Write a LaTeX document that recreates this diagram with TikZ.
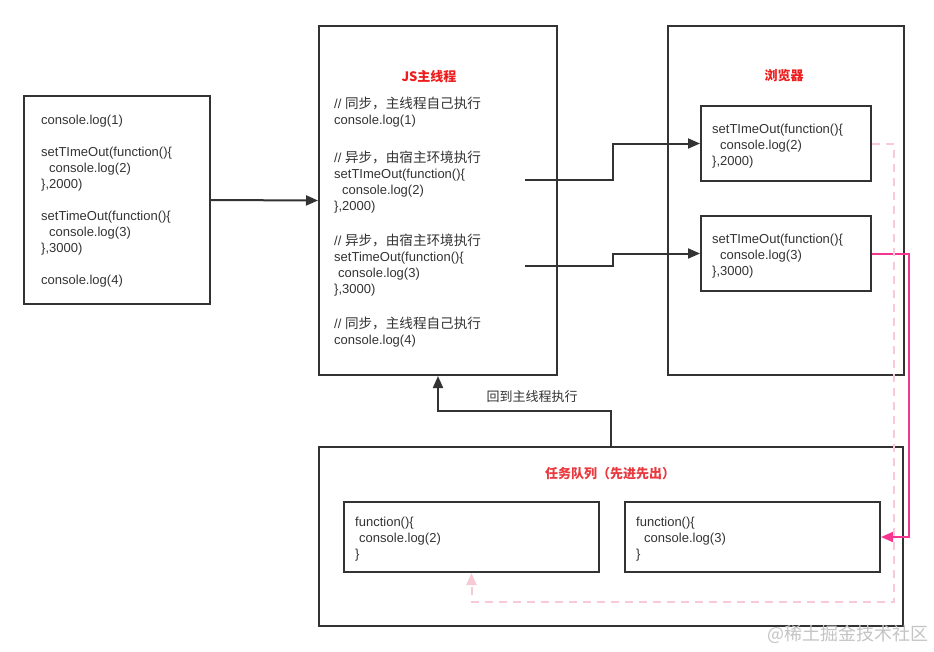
\documentclass[tikz,border=0pt]{standalone}
\usepackage{fontspec}
\setmainfont{Liberation Sans}
\newfontfamily\cjk{Noto Sans CJK SC}
\usetikzlibrary{arrows.meta}
\definecolor{linec}{HTML}{333333}
\definecolor{textc}{HTML}{333333}
\definecolor{titlered}{HTML}{EE1C1C}
\definecolor{queuered}{HTML}{E83A3F}
\definecolor{pinkc}{HTML}{F5358F}
\definecolor{lightpink}{HTML}{F8CAD6}
\definecolor{markc}{HTML}{C4C4C4}
\newcommand\zh[1]{{\cjk\fontsize{13.6}{16}\selectfont #1}}
\tikzset{
  box/.style={draw=linec, line width=2pt, fill=white, inner sep=0pt},
  code/.style={font=\fontsize{13}{16}\selectfont, text=textc, align=left, anchor=base west, inner sep=0pt},
  title/.style={font=\fontsize{13}{16}\selectfont\cjk\bfseries, inner sep=0pt},
  arr/.style={draw=linec, line width=2pt, -{Triangle[length=12pt,width=10pt]}},
  pinkarr/.style={draw=pinkc, line width=2pt, -{Triangle[length=12pt,width=10pt]}},
  dasharr/.style={draw=lightpink, line width=2pt, dash pattern=on 8pt off 6pt, -{Triangle[length=12pt,width=10pt]}},
}
\begin{document}
\begin{tikzpicture}[x=1pt,y=-1pt]
\useasboundingbox (0,0) rectangle (934,651);
\fill[white] (0,0) rectangle (934,651);

% boxes
\node[box, minimum width=186pt, minimum height=208pt] (src) at (117,200) {};
\node[box, minimum width=238pt, minimum height=349pt] (js) at (438,200.5) {};
\node[box, minimum width=236pt, minimum height=349pt] (br) at (786,200.5) {};
\node[box, minimum width=170pt, minimum height=75pt] (b1) at (786,143.5) {};
\node[box, minimum width=170pt, minimum height=75pt] (b2) at (786,253.5) {};
\node[box, minimum width=584pt, minimum height=179pt] (q) at (611,536.5) {};
\node[box, minimum width=255pt, minimum height=70pt] (qa) at (471.5,537) {};
\node[box, minimum width=255pt, minimum height=70pt] (qb) at (752.5,537) {};

% titles
\node[title, text=titlered] (tjs) at (429,76.5) {JS主线程};
\node[title, text=titlered] (tbr) at (784,76) {浏览器};
\node[title, text=queuered] (tq) at (610,474) {任务队列（先进先出）};

% source code (anchored at the baseline of the last line)
\node[code] (srccode) at (41,284.5) {console.log(1)\\[16pt]
setTImeOut(function()\{\\
\hspace*{8pt}console.log(2)\\
\},2000)\\[16pt]
setTimeOut(function()\{\\
\hspace*{8pt}console.log(3)\\
\},3000)\\[16pt]
console.log(4)};

% main thread code
\node[code] (jscode) at (334,344.5) {// \zh{同步，主线程自己执行}\\
console.log(1)\\[22pt]
// \zh{异步，由宿主环境执行}\\
setTImeOut(function()\{\\
\hspace*{8pt}console.log(2)\\
\},2000)\\[19pt]
// \zh{异步，由宿主环境执行}\\
setTimeOut(function()\{\\
\hspace*{4pt}console.log(3)\\
\},3000)\\[19pt]
// \zh{同步，主线程自己执行}\\
console.log(4)};

% browser code
\node[code] (b1code) at (712,165.5) {setTImeOut(function()\{\\
\hspace*{8pt}console.log(2)\\
\},2000)};
\node[code] (b2code) at (712,275.5) {setTImeOut(function()\{\\
\hspace*{8pt}console.log(3)\\
\},3000)};

% queue code
\node[code] (qacode) at (355,558.5) {function()\{\\
\hspace*{4pt}console.log(2)\\
\}};
\node[code] (qbcode) at (636,558.5) {function()\{\\
\hspace*{8pt}console.log(3)\\
\}};

% connectors
\draw[arr] (src.east) -- (js.west);
\coordinate (s1) at (525,180);
\coordinate (s2) at (525,266);
\draw[arr] (s1) -- (613,180) |- (b1.west);
\draw[arr] (s2) -- (613,266) |- (b2.west);
\draw[arr] (q.north) -- (611,411) -| (js.south);
\node[font=\fontsize{13}{16}\selectfont\cjk, text=textc, inner sep=0pt] (back) at (532,397) {回到主线程执行};
\draw[pinkarr] (b2.east) -- (909,253.5) |- (qb.east);
\draw[dasharr] (b1.east) -- (894,143.5) -- (894,602) -| (qa.south);

% watermark
\node[font=\fontsize{18}{20}\selectfont\cjk, text=markc, anchor=east, inner sep=0pt] (mark) at (929,634) {@稀土掘金技术社区};
\end{tikzpicture}
\end{document}
